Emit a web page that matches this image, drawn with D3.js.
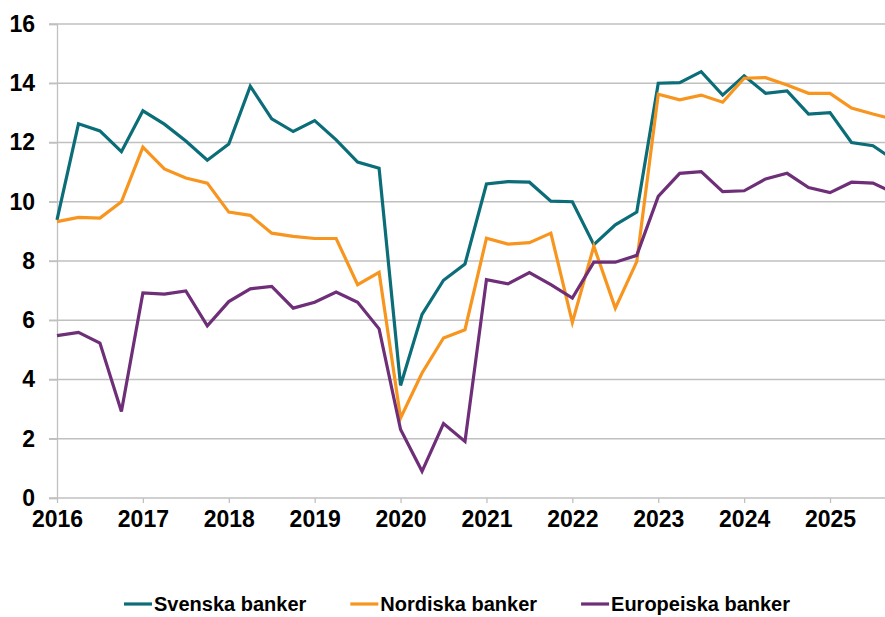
<!DOCTYPE html>
<html>
<head>
<meta charset="utf-8">
<script src="https://cdn.jsdelivr.net/npm/d3@7"></script>
<style>
  body { margin: 0; background: #fff; }
  svg text { font-family: "Liberation Sans", Arial, sans-serif; font-weight: bold; fill: #000; }
</style>
</head>
<body>
<div id="chart"></div>
<script>
// quarterly values, 2016 Q1 .. 2025 Q4
const startYear = 2016;
const years = [2016, 2017, 2018, 2019, 2020, 2021, 2022, 2023, 2024, 2025];
const yTicks = [0, 2, 4, 6, 8, 10, 12, 14, 16];

const svenska = [9.39, 12.63, 12.39, 11.69, 13.07, 12.62, 12.05, 11.40, 11.95, 13.90,
  12.80, 12.37, 12.74, 12.09, 11.34, 11.13, 3.80, 6.20, 7.35, 7.90,
  10.60, 10.68, 10.66, 10.02, 10.00, 8.55, 9.22, 9.65, 14.00, 14.02,
  14.39, 13.60, 14.25, 13.66, 13.74, 12.96, 13.01, 12.00, 11.89, 11.40];

const nordiska = [9.33, 9.47, 9.45, 10.00, 11.84, 11.11, 10.80, 10.63, 9.65, 9.54,
  8.94, 8.83, 8.76, 8.76, 7.20, 7.62, 2.70, 4.22, 5.40, 5.68,
  8.77, 8.57, 8.62, 8.94, 5.93, 8.50, 6.41, 7.98, 13.63, 13.44,
  13.60, 13.36, 14.17, 14.19, 13.94, 13.66, 13.66, 13.16, 12.96, 12.78];

const europeiska = [5.48, 5.59, 5.23, 2.92, 6.92, 6.88, 6.99, 5.81, 6.63, 7.06,
  7.14, 6.41, 6.61, 6.95, 6.61, 5.71, 2.31, 0.90, 2.51, 1.91,
  7.37, 7.23, 7.61, 7.20, 6.75, 7.96, 7.96, 8.19, 10.18, 10.96,
  11.02, 10.34, 10.37, 10.77, 10.96, 10.48, 10.31, 10.66, 10.63, 10.29];

const seriesNames = ["Svenska banker", "Nordiska banker", "Europeiska banker"];
const seriesColors = ["#0a6d78", "#f7951f", "#6e2e78"];
const seriesData = [svenska, nordiska, europeiska];

const width = 885;
const height = 617;
const margin = { top: 24, right: 0, bottom: 119, left: 57 };

const svg = d3.select("#chart")
  .append("svg")
  .attr("width", width)
  .attr("height", height);

const x = d3.scaleLinear()
  .domain([2016, 2025.64])
  .range([margin.left, width - margin.right]);

const y = d3.scaleLinear()
  .domain([0, 16])
  .range([height - margin.bottom, margin.top]);

// gridlines
svg.append("g")
  .selectAll("line")
  .data(yTicks)
  .join("line")
  .attr("x1", margin.left - 8)
  .attr("x2", width - margin.right)
  .attr("y1", d => y(d))
  .attr("y2", d => y(d))
  .attr("stroke", "#c0c0c0")
  .attr("stroke-width", 1.3);

// y axis
const yAxis = svg.append("g")
  .attr("transform", `translate(${margin.left},0)`)
  .call(d3.axisLeft(y).tickValues(yTicks).tickSize(8).tickPadding(14).tickFormat(d3.format("d")));
yAxis.select(".domain").attr("stroke", "#c0c0c0").attr("stroke-width", 1.3);
yAxis.selectAll(".tick line").attr("stroke", "#c0c0c0").attr("stroke-width", 1.3);
yAxis.selectAll("text").style("font-size", "23px").attr("fill", "#000");

// x axis
const xAxis = svg.append("g")
  .attr("transform", `translate(0,${y(0)})`)
  .call(d3.axisBottom(x).tickValues(years).tickSize(5).tickPadding(8).tickFormat(d3.format("d")));
xAxis.select(".domain").remove();
xAxis.selectAll(".tick line").attr("stroke", "#c0c0c0").attr("stroke-width", 1.3);
xAxis.selectAll("text").style("font-size", "23px").attr("fill", "#000");

// clip so the last quarter is cut at the chart edge
svg.append("clipPath")
  .attr("id", "plotClip")
  .append("rect")
  .attr("x", margin.left - 2)
  .attr("y", 0)
  .attr("width", width - margin.left + 2)
  .attr("height", height - margin.bottom + 2);

const line = d3.line()
  .x((d, i) => x(startYear + i / 4))
  .y(d => y(d));

svg.append("g")
  .attr("clip-path", "url(#plotClip)")
  .selectAll("path")
  .data(seriesData)
  .join("path")
  .attr("d", d => line(d))
  .attr("fill", "none")
  .attr("stroke", (d, i) => seriesColors[i])
  .attr("stroke-width", 3.2)
  .attr("stroke-linejoin", "miter");

// legend
const legend = svg.append("g").attr("transform", "translate(124,604)");
let lx = 0;
seriesNames.forEach((name, i) => {
  const item = legend.append("g").attr("transform", `translate(${lx},0)`);
  item.append("line")
    .attr("x1", 0).attr("x2", 28)
    .attr("y1", 0).attr("y2", 0)
    .attr("stroke", seriesColors[i])
    .attr("stroke-width", 3.2);
  const t = item.append("text")
    .attr("x", 30)
    .attr("y", 7)
    .style("font-size", "20px")
    .text(name);
  lx += 30 + t.node().getComputedTextLength() + 44;
});
</script>
</body>
</html>
